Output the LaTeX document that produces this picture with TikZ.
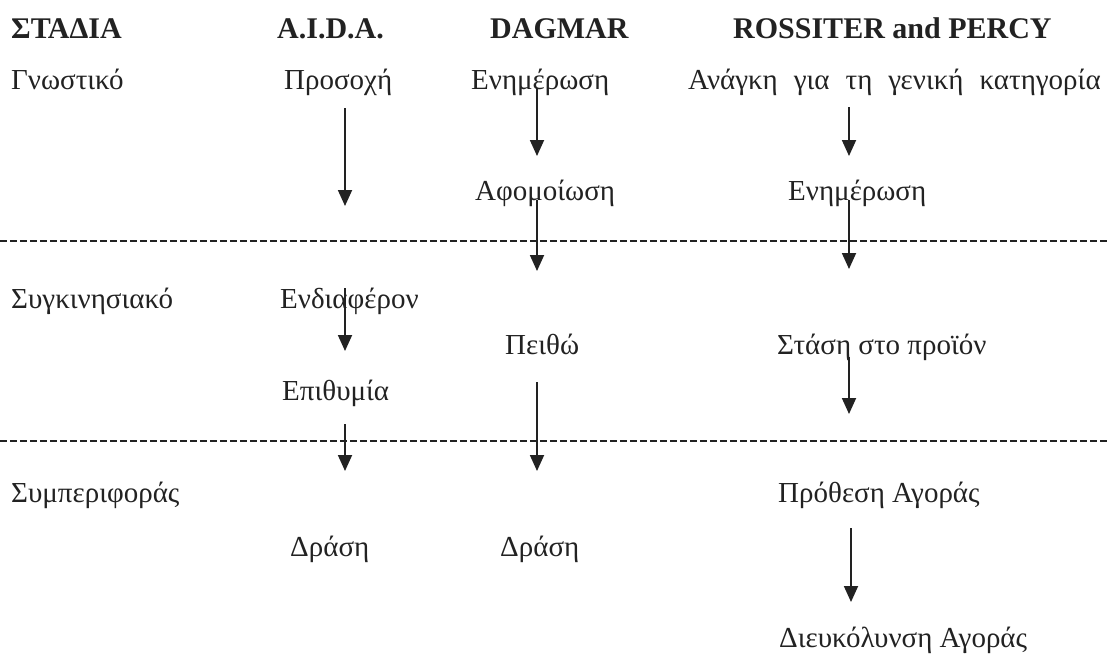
\documentclass[tikz,border=0pt]{standalone}
\usepackage{fontspec}
\setmainfont{Liberation Serif}
\usetikzlibrary{arrows.meta}
\definecolor{ink}{HTML}{222222}
\begin{document}
\begin{tikzpicture}[x=1pt,y=-1pt,
  txt/.style={anchor=base west, inner sep=0pt, text=ink, font=\fontsize{29}{34}\selectfont},
  hdr/.style={anchor=base west, inner sep=0pt, text=ink, font=\fontsize{30}{36}\selectfont\bfseries},
  arr/.style={draw=ink, line width=1.8pt, -{Triangle[width=14pt,length=16pt]}},
  sep/.style={draw=ink, line width=1.3pt, dash pattern=on 7pt off 3pt}]
\useasboundingbox (0,0) rectangle (1107,659);
% headers
\node[hdr] (hst) at (11,38) {ΣΤΑΔΙΑ};
\node[hdr] (haida) at (277,38) {A.I.D.A.};
\node[hdr] (hdag) at (490,38) {DAGMAR};
\node[hdr] (hros) at (733,38) {ROSSITER and PERCY};
% stage labels
\node[txt] (s1) at (11,89) {Γνωστικό};
\node[txt] (s2) at (11,308) {Συγκινησιακό};
\node[txt] (s3) at (11,502) {Συμπεριφοράς};
% AIDA
\node[txt] (a1) at (284,89) {Προσοχή};
\node[txt] (a2) at (280,308) {Ενδιαφέρον};
\node[txt] (a3) at (282,400) {Επιθυμία};
\node[txt] (a4) at (290,556) {Δράση};
% DAGMAR
\node[txt] (d1) at (471,89) {Ενημέρωση};
\node[txt] (d2) at (475,200) {Αφομοίωση};
\node[txt] (d3) at (505,354) {Πειθώ};
\node[txt] (d4) at (500,556) {Δράση};
% Rossiter and Percy
\node[txt] (r1) at (688,89) {Ανάγκη\hspace{0.55em}για\hspace{0.55em}τη\hspace{0.55em}γενική\hspace{0.55em}κατηγορία};
\node[txt] (r2) at (788,200) {Ενημέρωση};
\node[txt] (r3) at (777,354) {Στάση στο προϊόν};
\node[txt] (r4) at (778,502) {Πρόθεση Αγοράς};
\node[txt] (r5) at (779,647) {Διευκόλυνση Αγοράς};
% separators
\coordinate (l1a) at (0,241); \coordinate (l1b) at (1107,241);
\coordinate (l2a) at (0,441); \coordinate (l2b) at (1107,441);
\draw[sep] (l1a) -- (l1b);
\draw[sep] (l2a) -- (l2b);
% arrow end points
\coordinate (aA1s) at (345,108); \coordinate (aA1e) at (345,206);
\coordinate (aA2s) at (345,288); \coordinate (aA2e) at (345,351);
\coordinate (aA3s) at (345,424); \coordinate (aA3e) at (345,471);
\coordinate (aD1s) at (537,88);  \coordinate (aD1e) at (537,156);
\coordinate (aD2s) at (537,200); \coordinate (aD2e) at (537,271);
\coordinate (aD3s) at (537,382); \coordinate (aD3e) at (537,471);
\coordinate (aR1s) at (849,107); \coordinate (aR1e) at (849,156);
\coordinate (aR2s) at (849,200); \coordinate (aR2e) at (849,269);
\coordinate (aR3s) at (849,357); \coordinate (aR3e) at (849,414);
\coordinate (aR4s) at (851,528); \coordinate (aR4e) at (851,602);
\foreach \a in {A1,A2,A3,D1,D2,D3,R1,R2,R3,R4}
  \draw[arr] (a\a s) -- (a\a e);
\end{tikzpicture}
\end{document}
